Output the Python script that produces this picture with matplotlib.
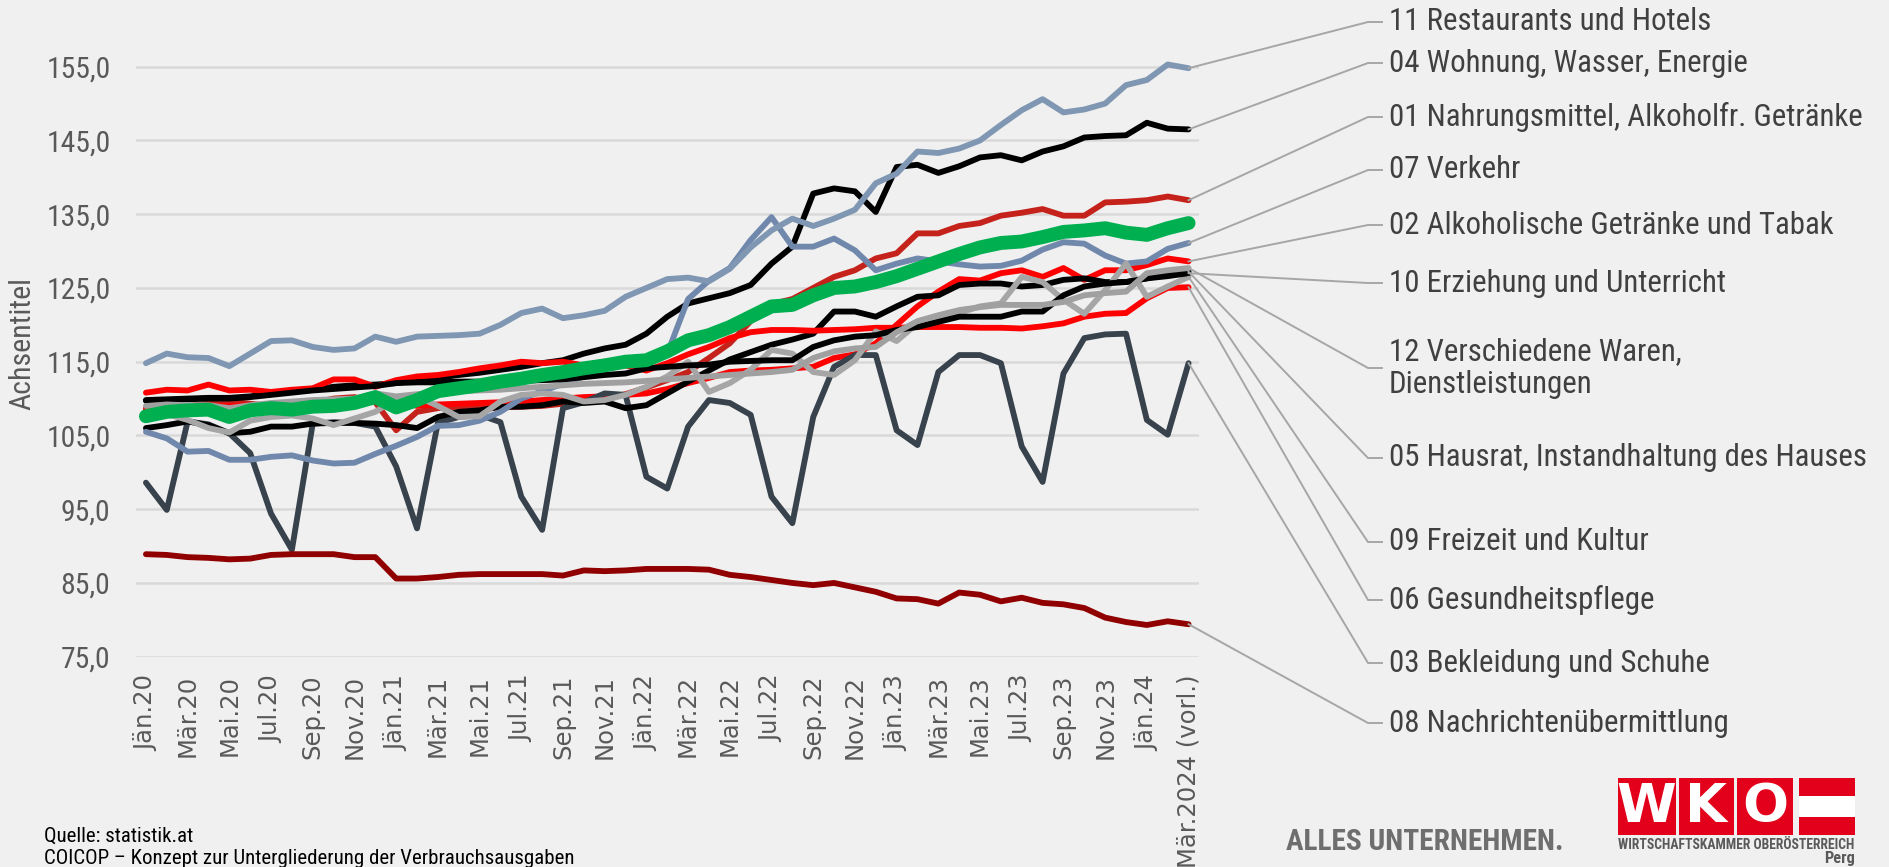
import matplotlib
matplotlib.use('Agg')
import matplotlib.pyplot as plt
from matplotlib import font_manager
from matplotlib.lines import Line2D
from matplotlib.patches import Rectangle

W, H = 1889, 867
BG = '#f0f0f0'

## DATA (monthly index, Jän.20 .. Mär.24)
x_labels = ['Jän.20', 'Mär.20', 'Mai.20', 'Jul.20', 'Sep.20', 'Nov.20',
            'Jän.21', 'Mär.21', 'Mai.21', 'Jul.21', 'Sep.21', 'Nov.21',
            'Jän.22', 'Mär.22', 'Mai.22', 'Jul.22', 'Sep.22', 'Nov.22',
            'Jän.23', 'Mär.23', 'Mai.23', 'Jul.23', 'Sep.23', 'Nov.23',
            'Jän.24', 'Mär.2024 (vorl.)']

s11 = [114.8, 116.1, 115.6, 115.5, 114.4, 116.1, 117.8, 117.9, 117.0, 116.6,
       116.8, 118.4, 117.7, 118.4, 118.5, 118.6, 118.8, 120.0, 121.6, 122.2,
       120.9, 121.3, 121.9, 123.8, 125.0, 126.2, 126.4, 125.9, 127.6, 130.5,
       132.8, 134.4, 133.4, 134.4, 135.6, 139.2, 140.5, 143.5, 143.3, 143.9,
       145.0, 147.1, 149.1, 150.6, 148.8, 149.2, 150.0, 152.5, 153.2, 155.3,
       154.8]
s04 = [109.8, 109.9, 110.0, 110.1, 110.1, 110.3, 110.7, 110.9, 111.2, 111.6,
       111.8, 111.9, 112.1, 112.5, 112.8, 113.2, 113.5, 113.9, 114.3, 114.8,
       115.2, 116.1, 116.8, 117.3, 118.8, 121.1, 122.9, 123.6, 124.3, 125.4,
       128.3, 130.6, 137.8, 138.5, 138.1, 135.3, 141.4, 141.7, 140.6, 141.5,
       142.7, 143.0, 142.3, 143.5, 144.2, 145.4, 145.6, 145.7, 147.4, 146.6,
       146.5]
s01 = [108.7, 108.9, 109.0, 109.3, 109.6, 109.3, 109.0, 109.2, 109.4, 110.0,
       110.2, 109.5, 105.7, 108.2, 108.7, 108.9, 108.7, 108.8, 108.9, 109.0,
       109.3, 109.6, 110.0, 110.6, 111.5, 112.5, 113.6, 115.5, 117.5, 120.5,
       122.8, 123.5, 125.0, 126.5, 127.4, 129.0, 129.7, 132.4, 132.4, 133.4,
       133.8, 134.8, 135.2, 135.7, 134.8, 134.8, 136.6, 136.7, 136.9, 137.4,
       136.9]
s07 = [105.5, 104.6, 102.8, 102.9, 101.7, 101.7, 102.1, 102.3, 101.6, 101.2,
       101.3, 102.5, 103.6, 104.8, 106.3, 106.4, 107.0, 108.2, 110.0, 111.0,
       112.0, 113.0, 114.2, 115.1, 115.5, 116.1, 123.5, 126.0, 127.7, 131.5,
       134.6, 130.6, 130.6, 131.7, 130.1, 127.4, 128.3, 129.0, 128.6, 128.2,
       127.9, 128.0, 128.7, 130.2, 131.2, 131.0, 129.4, 128.3, 128.6, 130.3,
       131.1]
s02 = [108.6, 108.8, 108.9, 109.0, 109.0, 109.1, 109.2, 109.3, 109.4, 109.5,
       109.6, 109.7, 109.8, 109.0, 109.2, 109.3, 109.4, 109.5, 109.6, 109.8,
       110.0, 110.2, 110.3, 110.5, 110.7, 111.3, 112.1, 112.8, 113.6, 113.8,
       113.9, 114.1, 114.3, 115.5, 116.0, 117.5, 120.0, 122.5, 124.5, 126.2,
       126.0, 127.0, 127.4, 126.5, 127.7, 126.1, 127.4, 127.4, 128.1, 129.0,
       128.6]
s10 = [109.7, 109.8, 109.9, 110.0, 110.0, 110.2, 110.5, 110.8, 111.1, 111.3,
       111.5, 111.7, 112.1, 112.2, 112.2, 112.3, 112.3, 112.4, 112.4, 112.5,
       112.6, 112.9, 113.2, 113.4, 114.1, 114.3, 114.5, 114.6, 115.0, 115.1,
       115.2, 115.2, 117.0, 117.9, 118.4, 118.6, 119.3, 119.7, 120.4, 121.1,
       121.1, 121.1, 121.8, 121.8, 124.0, 125.2, 125.6, 125.8, 126.3, 126.6,
       127.0]
s12 = [109.0, 109.2, 109.1, 109.1, 108.7, 109.1, 109.4, 109.6, 109.8, 109.9,
       110.0, 110.7, 110.3, 110.6, 110.8, 111.0, 111.1, 111.2, 111.4, 111.6,
       111.8, 112.0, 112.1, 112.2, 112.4, 112.6, 112.8, 113.0, 113.2, 113.4,
       113.6, 113.9, 115.5, 116.4, 116.8, 117.0, 119.0, 120.5, 121.3, 122.0,
       122.4, 122.7, 122.7, 122.7, 123.1, 124.0, 124.3, 124.5, 127.0, 127.4,
       127.7]
s05 = [106.0, 106.4, 106.9, 106.4, 105.3, 105.5, 106.2, 106.2, 106.6, 106.7,
       106.7, 106.6, 106.4, 106.0, 107.5, 108.2, 108.4, 108.9, 108.9, 109.1,
       109.6, 109.4, 109.6, 108.7, 109.1, 110.7, 112.3, 113.8, 115.3, 116.3,
       117.3, 118.0, 118.8, 121.8, 121.8, 121.1, 122.5, 123.8, 124.0, 125.4,
       125.6, 125.6, 125.2, 125.4, 126.1, 126.3, 125.8, 125.8, 126.3, 126.9,
       127.2]
s09 = [107.8, 107.9, 107.1, 106.0, 105.4, 107.0, 107.5, 107.7, 107.3, 106.4,
       107.3, 108.2, 110.0, 110.3, 109.0, 107.5, 107.6, 109.6, 110.5, 110.7,
       110.5, 109.6, 109.8, 110.5, 111.6, 113.0, 115.0, 110.9, 112.1, 113.9,
       116.6, 116.1, 113.6, 113.2, 115.2, 119.1, 117.8, 120.2, 120.8, 121.6,
       122.5, 122.9, 126.5, 125.8, 123.4, 121.5, 124.7, 128.3, 123.8, 125.2,
       126.5]
s06 = [110.8, 111.2, 111.1, 111.9, 111.1, 111.2, 110.9, 111.2, 111.4, 112.6,
       112.6, 111.6, 112.5, 113.0, 113.2, 113.6, 114.1, 114.5, 115.0, 114.8,
       115.0, 114.5, 115.0, 114.5, 113.8, 114.8, 116.0, 117.0, 118.2, 119.0,
       119.3, 119.3, 119.2, 119.3, 119.4, 119.6, 119.6, 119.7, 119.7, 119.7,
       119.6, 119.6, 119.5, 119.8, 120.2, 121.1, 121.5, 121.6, 123.6, 125.0,
       125.1]
s03 = [98.6, 94.9, 106.9, 106.5, 105.3, 102.6, 94.4, 89.5, 106.6, 106.8,
       106.7, 106.2, 100.8, 92.4, 106.7, 107.5, 107.8, 106.8, 96.7, 92.2,
       108.7, 109.5, 110.7, 110.5, 99.4, 97.8, 106.2, 109.8, 109.4, 107.8,
       96.7, 93.1, 107.5, 114.3, 115.9, 115.9, 105.7, 103.7, 113.6, 115.9,
       115.9, 114.8, 103.5, 98.7, 113.4, 118.2, 118.7, 118.8, 107.1, 105.1,
       114.8]
s08 = [88.9, 88.8, 88.5, 88.4, 88.2, 88.3, 88.8, 88.9, 88.9, 88.9,
       88.5, 88.5, 85.6, 85.6, 85.8, 86.1, 86.2, 86.2, 86.2, 86.2,
       86.0, 86.7, 86.6, 86.7, 86.9, 86.9, 86.9, 86.8, 86.1, 85.8,
       85.4, 85.0, 84.7, 85.0, 84.4, 83.8, 82.9, 82.8, 82.2, 83.7,
       83.4, 82.5, 83.0, 82.3, 82.1, 81.6, 80.3, 79.7, 79.3, 79.8,
       79.4]
total = [107.6, 108.2, 108.4, 108.5, 107.5, 108.4, 108.7, 108.5, 108.9, 109.0,
         109.4, 110.2, 108.8, 109.8, 111.0, 111.4, 111.8, 112.3, 112.7, 113.2,
         113.6, 114.1, 114.5, 115.0, 115.2, 116.4, 117.9, 118.6, 119.7, 121.1,
         122.5, 122.7, 124.0, 125.0, 125.2, 125.8, 126.6, 127.6, 128.6, 129.6,
         130.5, 131.1, 131.3, 131.9, 132.6, 132.8, 133.1, 132.5, 132.2, 133.1,
         133.8]

# series: (values, colour, label text, label y in px)
series = [
    (s01, '#c5221c', '01 Nahrungsmittel, Alkoholfr. Getränke', 117),
    (s02, '#ff0000', '02 Alkoholische Getränke und Tabak', 225),
    (s03, '#37424c', '03 Bekleidung und Schuhe', 663),
    (s04, '#000000', '04 Wohnung, Wasser, Energie', 63),
    (s05, '#000000', '05 Hausrat, Instandhaltung des Hauses', 458),
    (s06, '#ff0000', '06 Gesundheitspflege', 600),
    (s07, '#7188ad', '07 Verkehr', 170),
    (s08, '#900000', '08 Nachrichtenübermittlung', 723),
    (s09, '#a6a6a6', '09 Freizeit und Kultur', 542),
    (s10, '#000000', '10 Erziehung und Unterricht', 283),
    (s11, '#7f97b3', '11 Restaurants und Hotels', 22),
    (s12, '#a0a0a0', '12 Verschiedene Waren,\nDienstleistungen', 368),
]

## FONTS
installed = {f.name for f in font_manager.fontManager.ttflist}
COND = next((f for f in ['Roboto Condensed', 'Liberation Sans Narrow', 'Roboto']
             if f in installed), 'DejaVu Sans')

fig = plt.figure(figsize=(W / 100, H / 100), dpi=100, facecolor=BG)
renderer = fig.canvas.get_renderer()


def fit(text, target_px, family, weight='normal'):
    # font size that gives the text the wanted width in pixels
    t = fig.text(0, 0, text, fontsize=20, family=family, weight=weight)
    w = t.get_window_extent(renderer).width
    t.remove()
    return 20 * target_px / w


def ftext(x, y, s, **kw):
    return fig.text(x / W, 1 - y / H, s, **kw)


## AXES
ax = fig.add_axes([135.5 / W, 1 - 656.7 / H, 1063.5 / W, 656.7 / H])
ax.set_facecolor(BG)
for sp in ax.spines.values():
    sp.set_visible(False)
ax.set_xlim(-0.5, 50.5)
ax.set_ylim(75, 75 + 656.7 / 7.375)
ax.set_yticks(range(75, 156, 10))
ax.yaxis.grid(True, color='#d9d9d9', lw=1.8)
ax.set_axisbelow(True)

ytick_size = fit('155,0', 64, COND)
ax.set_yticklabels([f'{v},0' for v in range(75, 156, 10)], family=COND,
                   fontsize=ytick_size, color='#595959')
xtick_size = fit('Jän.20', 76, 'DejaVu Sans')
ax.set_xticks(range(0, 51, 2))
ax.set_xticklabels(x_labels, rotation=90, family='DejaVu Sans',
                   fontsize=xtick_size, color='#595959')
ax.tick_params(axis='y', length=0, pad=18)
ax.tick_params(axis='x', length=0, pad=13)

months = list(range(51))
for vals, col, _, _ in series:
    ax.plot(months, vals, color=col, lw=4.2, solid_capstyle='round',
            solid_joinstyle='round', zorder=3)
ax.plot(months, total, color='#00b050', lw=10, solid_capstyle='round',
        solid_joinstyle='round', zorder=4)

ftext(22.5, 343, 'Achsentitel', rotation=90, ha='center', va='center',
      family=COND, fontsize=fit('Achsentitel', 133, COND), color='#595959')

## LABELS WITH LEADER LINES
label_size = fit('01 Nahrungsmittel, Alkoholfr. Getränke', 473, COND)
for vals, col, text, ly in series:
    px, py = ax.transData.transform((50, vals[-1]))
    fig.add_artist(Line2D([px, 1368, 1382], [py, H - ly, H - ly],
                          transform=None, color='#a6a6a6', lw=1.4, zorder=5))
    ftext(1389, ly, text, ha='left', va='center', family=COND,
          fontsize=label_size, color='#404040', linespacing=1.15)

## FOOTER
foot_size = fit('Quelle: statistik.at', 150, COND)
ftext(44, 846, 'Quelle: statistik.at', ha='left', va='bottom', family=COND,
      fontsize=foot_size, color='#000000')
ftext(44, 849, 'COICOP – Konzept zur Untergliederung der Verbrauchsausgaben',
      ha='left', va='top', family=COND, color='#000000', fontsize=foot_size)

ftext(1286, 842, 'ALLES UNTERNEHMEN.', ha='left', va='center', family=COND,
      weight='bold', color='#6e6e6e',
      fontsize=fit('ALLES UNTERNEHMEN.', 278, COND, 'bold'))

# WKO logo
red = '#e2001a'
boxes = [(1617.5, 1676, 'W'), (1678.6, 1734, 'K'), (1736.7, 1793, 'O')]
for x0, x1, letter in boxes:
    fig.add_artist(Rectangle((x0 / W, 1 - 835 / H), (x1 - x0) / W, 57 / H,
                             transform=fig.transFigure, color=red, lw=0))
    ftext((x0 + x1) / 2, 807, letter, ha='center', va='center', color='white',
          family='DejaVu Sans', weight='bold', fontsize=39)
fig.add_artist(Rectangle((1798.8 / W, 1 - 835 / H), 56.6 / W, 57 / H,
                         transform=fig.transFigure, color=red, lw=0))
fig.add_artist(Rectangle((1798.8 / W, 1 - 817 / H), 56.6 / W, 21 / H,
                         transform=fig.transFigure, color='white', lw=0))
small_size = fit('WIRTSCHAFTSKAMMER OBERÖSTERREICH', 238, COND, 'bold')
ftext(1736.5, 845, 'WIRTSCHAFTSKAMMER OBERÖSTERREICH', ha='center', va='center',
      family=COND, weight='bold', color='#5a5a5a', fontsize=small_size)
ftext(1855, 866, 'Perg', ha='right', va='bottom', family=COND, weight='bold',
      color='#5a5a5a', fontsize=small_size * 1.2)

fig.savefig('out.png', dpi=100, facecolor=BG)
